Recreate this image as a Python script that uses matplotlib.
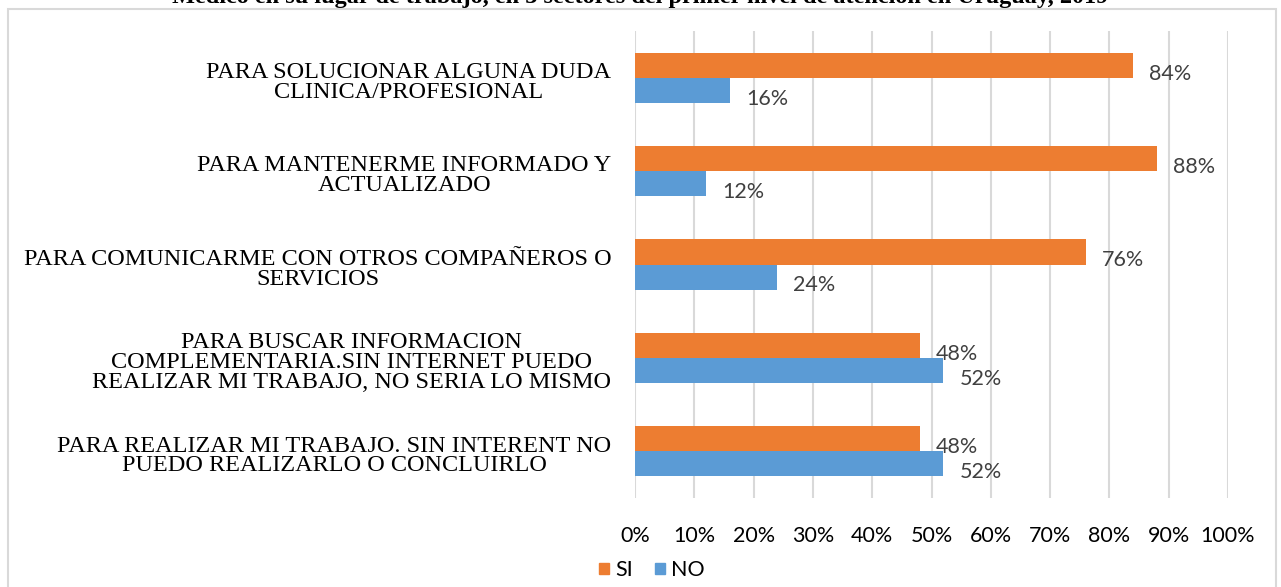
"""Horizontal SI/NO bar chart: uses of internet at the workplace."""
from __future__ import annotations

import matplotlib

matplotlib.use("Agg")
import matplotlib.pyplot as plt
from matplotlib.patches import Patch, Rectangle
from matplotlib.ticker import PercentFormatter

# Categories top -> bottom, as they appear on the chart.
CATEGORIES = [
    "PARA SOLUCIONAR ALGUNA DUDA\nCLINICA/PROFESIONAL",
    "PARA MANTENERME INFORMADO Y\nACTUALIZADO",
    "PARA COMUNICARME CON OTROS COMPAÑEROS O\nSERVICIOS",
    "PARA BUSCAR INFORMACION\nCOMPLEMENTARIA.SIN INTERNET PUEDO\nREALIZAR MI TRABAJO, NO SERIA LO MISMO",
    "PARA REALIZAR MI TRABAJO. SIN INTERENT NO\nPUEDO REALIZARLO O CONCLUIRLO",
]
SI = [0.84, 0.88, 0.76, 0.48, 0.48]
NO = [0.16, 0.12, 0.24, 0.52, 0.52]
SERIES = ["SI", "NO"]
TICKS = [i / 10 for i in range(11)]

TITLE = ("Médico en su lugar de trabajo, en 3 sectores del primer nivel "
         "de atención en Uruguay, 2019")

ORANGE = "#ED7D31"
BLUE = "#5B9BD5"
GRID = "#D9D9D9"
W, H = 1281, 587


def main() -> None:
    fig = plt.figure(figsize=(W / 100, H / 100), dpi=100)
    ax = fig.add_axes([635 / W, 1 - 498 / H, (1228 - 635) / W, (498 - 31) / H])

    # chart frame (bottom edge falls outside the picture)
    fig.add_artist(Rectangle((8 / W, -0.05), (1276 - 8) / W, 1.05 - 9 / H,
                             transform=fig.transFigure, fill=False,
                             edgecolor=GRID, linewidth=1.5))
    # title, cut off at the top of the image -- only its lowest strip shows
    fig.text(0.5, 1 - 2.5 / H, TITLE, ha="center", va="baseline",
             family="Liberation Serif", fontweight="bold", fontsize=17.5)

    n = len(CATEGORIES)
    ypos = list(range(n - 1, -1, -1))
    h = 0.268
    si_bars = ax.barh([y + h / 2 for y in ypos], SI, height=h, color=ORANGE, zorder=3)
    no_bars = ax.barh([y - h / 2 for y in ypos], NO, height=h, color=BLUE, zorder=3)

    for bars, vals in ((si_bars, SI), (no_bars, NO)):
        for b, v in zip(bars, vals):
            ax.annotate(f"{v:.0%}", (b.get_width(), b.get_y() + b.get_height() / 2),
                        xytext=(11.5, -6), textcoords="offset points",
                        ha="left", va="center", color="#404040",
                        family="Lato", fontsize=15.5)

    ax.set_xlim(0, 1)
    ax.set_ylim(-0.5, n - 0.5)
    ax.set_xticks(TICKS)
    ax.xaxis.set_major_formatter(PercentFormatter(1, decimals=0))
    ax.set_yticks([y - 0.03 for y in ypos], CATEGORIES)
    for lab in ax.get_yticklabels():
        lab.set_family("Liberation Serif")
        lab.set_fontsize(17.5)
        lab.set_multialignment("center")
        lab.set_linespacing(0.92)
    for lab in ax.get_xticklabels():
        lab.set_family("Lato")
        lab.set_fontsize(15.5)
    ax.tick_params(axis="x", length=0, pad=20)
    ax.tick_params(axis="y", length=0, pad=17)
    ax.grid(axis="x", color=GRID, linewidth=1.5, zorder=0)
    for s in ax.spines.values():
        s.set_visible(False)

    handles = [Patch(color=ORANGE), Patch(color=BLUE)]
    fig.legend(handles, SERIES, loc="center", bbox_to_anchor=(652 / W, 1 - 570 / H),
               ncol=2, frameon=False, handlelength=0.45, handleheight=0.45,
               handletextpad=0.3, columnspacing=1.0,
               prop={"family": "Lato", "size": 15.5})

    fig.savefig("out.png", dpi=100)
    plt.close(fig)


if __name__ == "__main__":
    main()
